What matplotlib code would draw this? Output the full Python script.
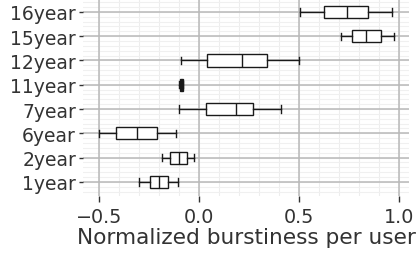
import matplotlib
matplotlib.use("Agg")
import matplotlib.pyplot as plt
import numpy as np

# categories bottom -> top
groups = ["1year", "2year", "6year", "7year", "11year", "12year", "15year", "16year"]
whislo = [-0.30, -0.185, -0.50, -0.10, -0.098, -0.09, 0.71, 0.505]
q1 = [-0.245, -0.145, -0.415, 0.035, -0.096, 0.04, 0.765, 0.625]
med = [-0.20, -0.10, -0.31, 0.185, -0.088, 0.215, 0.835, 0.74]
q3 = [-0.155, -0.06, -0.21, 0.27, -0.08, 0.34, 0.91, 0.845]
whishi = [-0.105, -0.025, -0.115, 0.41, -0.078, 0.50, 0.975, 0.965]

stats = []
for i in range(len(groups)):
    stats.append({"label": groups[i], "whislo": whislo[i], "q1": q1[i], "med": med[i],
                  "q3": q3[i], "whishi": whishi[i], "fliers": []})

fig = plt.figure(figsize=(4.16, 2.55), dpi=100)
ax = fig.add_axes([83/416, 1 - 197/255, (409 - 83)/416, 197/255])

ax.set_xlim(-0.58, 1.05)
ax.set_ylim(0.42, 8.53)

# grid: faint minor first, then major on top
for x in np.arange(-0.5, 1.05, 0.1):
    ax.axvline(x, color="#ededed", lw=0.8, zorder=0)
for y in np.arange(0.6, 8.5, 0.2):
    ax.axhline(y, color="#f0f0f0", lw=0.8, zorder=0)
for x in [-0.5, 0.0, 0.5, 1.0]:
    ax.axvline(x, color="#b8b8b8", lw=1.1, zorder=1)
for y in range(1, len(groups) + 1):
    ax.axhline(y, color="#b8b8b8", lw=1.1, zorder=1)

bp = ax.bxp(stats, vert=False, widths=0.5, showfliers=False, patch_artist=True,
            boxprops=dict(edgecolor="#1a1a1a", facecolor="white", lw=1.0),
            medianprops=dict(color="#1a1a1a", lw=1.0),
            whiskerprops=dict(color="#1a1a1a", lw=1.0),
            capprops=dict(color="#1a1a1a", lw=1.0),
            capwidths=0.3, zorder=3)
bp["boxes"][groups.index("11year")].set_facecolor("#1a1a1a")

ax.set_xticks([-0.5, 0.0, 0.5, 1.0])
ax.set_xticklabels(["\u22120.5", "0.0", "0.5", "1.0"])
for s in ax.spines.values():
    s.set_visible(False)
ax.tick_params(axis="y", which="major", length=3, width=1, color="#333333",
               labelsize=13.5, labelcolor="#333333", pad=2)
ax.tick_params(axis="x", which="major", length=4, width=1, color="#333333",
               labelsize=13.8, labelcolor="#333333", pad=4)
ax.set_xlabel("Normalized burstiness per user", fontsize=15.6, color="#333333", labelpad=1)

fig.savefig("out.png", dpi=100)
